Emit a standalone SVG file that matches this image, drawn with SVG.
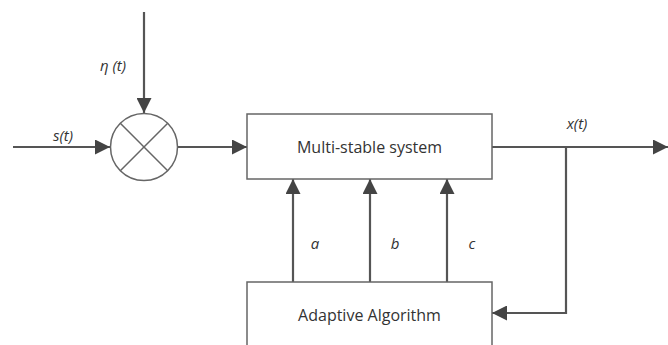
<svg xmlns="http://www.w3.org/2000/svg" width="668" height="345" viewBox="0 0 668 345">
<defs>
<style>
.box{fill:#fff;stroke:#666;stroke-width:1.5}
.ln{fill:none;stroke:#555;stroke-width:2.2}
.t{font-family:"Open Sans","Noto Sans",sans-serif;font-size:16px;fill:#333}
.i{font-style:italic;font-size:15px}
</style>
<marker id="ahb" viewBox="0 0 10 10" refX="10" refY="5" markerWidth="15" markerHeight="15" markerUnits="userSpaceOnUse" orient="auto">
<path d="M0,0 L10,5 L0,10 z" fill="#444"/>
</marker>
</defs>
<rect width="668" height="345" fill="#fff"/>
<g id="connectors">
<line class="ln" x1="144" y1="12" x2="144" y2="113" marker-end="url(#ahb)"/>
<line class="ln" x1="13" y1="147" x2="110" y2="147" marker-end="url(#ahb)"/>
<line class="ln" x1="177" y1="147" x2="247" y2="147" marker-end="url(#ahb)"/>
<line class="ln" x1="492" y1="147" x2="668" y2="147" marker-end="url(#ahb)"/>
<polyline class="ln" points="566,147 566,313 492,313" marker-end="url(#ahb)"/>
<line class="ln" x1="293" y1="282" x2="293" y2="179" marker-end="url(#ahb)"/>
<line class="ln" x1="370" y1="282" x2="370" y2="179" marker-end="url(#ahb)"/>
<line class="ln" x1="447" y1="282" x2="447" y2="179" marker-end="url(#ahb)"/>
<text class="t i" x="126" y="71" text-anchor="end">η (t)</text>
<text class="t i" x="63" y="141" text-anchor="middle">s(t)</text>
<text class="t i" x="577" y="129" text-anchor="middle">x(t)</text>
<text class="t i" x="315" y="249" text-anchor="middle">a</text>
<text class="t i" x="395" y="249" text-anchor="middle">b</text>
<text class="t i" x="472" y="249" text-anchor="middle">c</text>
</g>
<g id="multiplier">
<circle cx="144" cy="147" r="33.5" fill="#fff" stroke="#666" stroke-width="1.5"/>
<line x1="120.3" y1="123.3" x2="167.7" y2="170.7" stroke="#666" stroke-width="1.5"/>
<line x1="167.7" y1="123.3" x2="120.3" y2="170.7" stroke="#666" stroke-width="1.5"/>
</g>
<g id="multistable">
<rect class="box" x="247" y="114" width="245" height="65"/>
<text class="t" x="369.5" y="153" text-anchor="middle">Multi-stable system</text>
</g>
<g id="adaptive">
<rect class="box" x="247" y="282" width="245" height="70"/>
<text class="t" x="369.5" y="321" text-anchor="middle">Adaptive Algorithm</text>
</g>
</svg>
